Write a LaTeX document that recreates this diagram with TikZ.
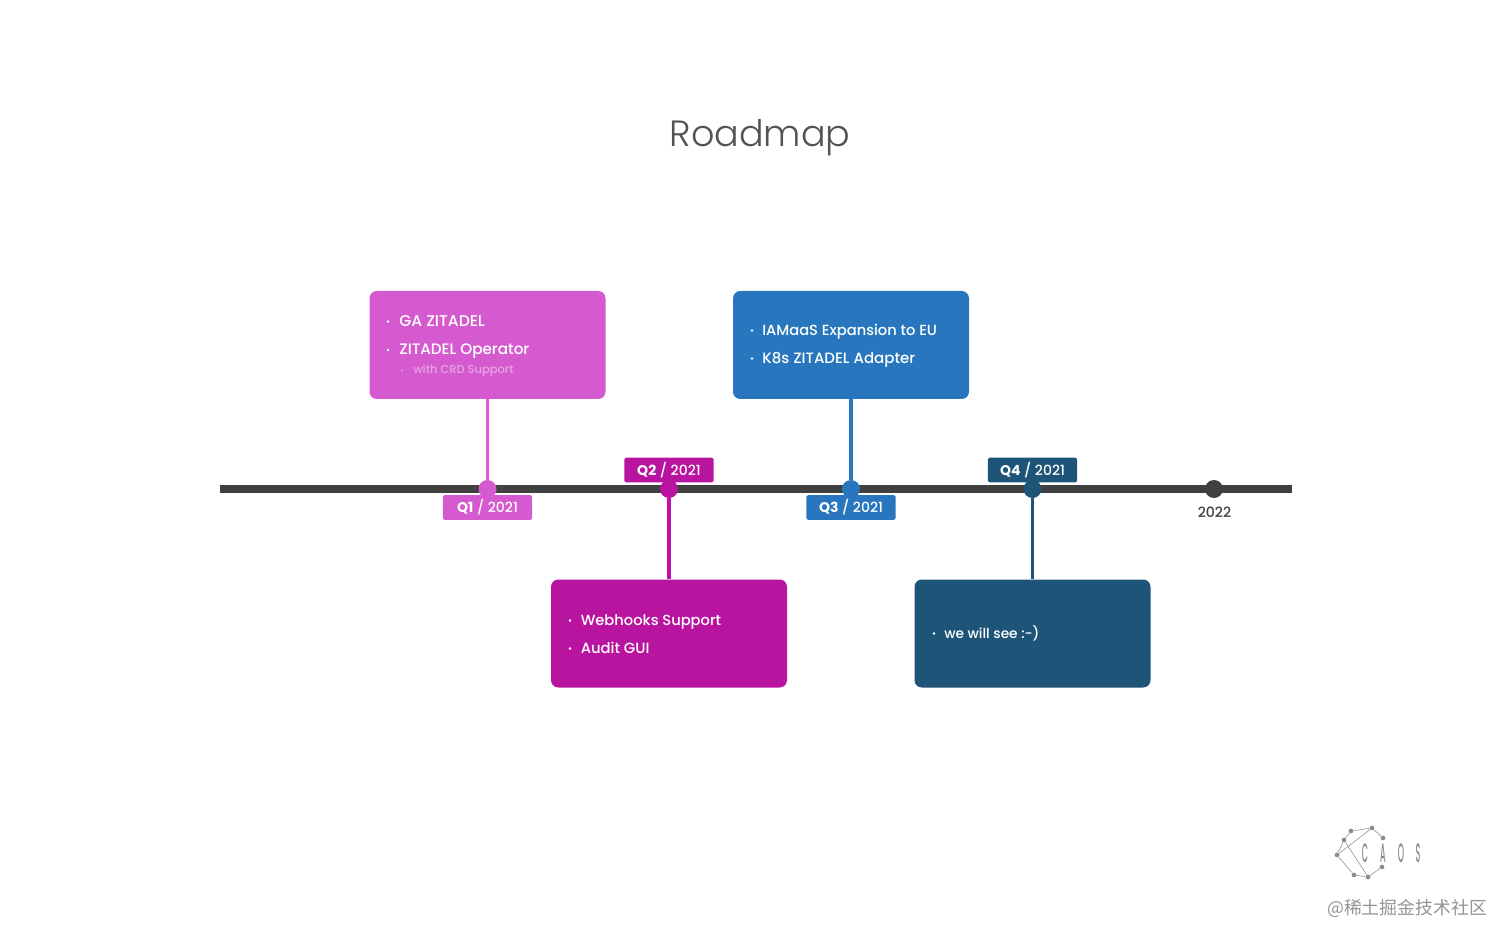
\documentclass[tikz,border=0pt]{standalone}
\usepackage{fontspec}
\setmainfont{Poppins Medium}[BoldFont=Poppins Bold]
\newfontfamily\titlefont{Poppins Light}
\newfontfamily\cjk{Noto Sans CJK SC}
\definecolor{cpink}{HTML}{D55ACF}
\definecolor{cpinkline}{HTML}{E455DE}
\definecolor{cmag}{HTML}{B9149F}
\definecolor{cmagline}{HTML}{C40FAF}
\definecolor{cblue}{HTML}{2877BE}
\definecolor{cnavy}{HTML}{1F5479}
\definecolor{cdark}{HTML}{404040}
\definecolor{clogo}{HTML}{8A8A8A}
\tikzset{
  card/.style={rounded corners=5.5pt,minimum width=177pt,minimum height=81pt,inner sep=0pt,fill=#1},
  tag/.style={rounded corners=1.2pt,minimum width=67pt,minimum height=18.5pt,inner sep=0pt,fill=#1,text=white,font=\fontsize{10.5}{12}\selectfont},
  dot/.style={circle,minimum size=13.5pt,inner sep=0pt,fill=#1},
  stem/.style={line width=2.4pt,draw=#1},
  item/.style={anchor=base west,inner sep=0pt,text=white,font=\fontsize{#1}{12}\selectfont},
  item/.default=11.1,
  bul/.style={circle,fill=white,minimum size=2.2pt,inner sep=0pt},
  subitem/.style={anchor=base west,inner sep=0pt,text=#1,font=\fontsize{8.6}{10}\selectfont},
  lg/.style={draw=clogo,line width=0.4pt},
  lgn/.style={circle,fill=clogo,minimum size=3.5pt,inner sep=0pt},
}
\begin{document}
\begin{tikzpicture}[x=0.75pt,y=-0.75pt]
\useasboundingbox (0,0) rectangle (1512,944);
\node[inner sep=0pt,anchor=base,text=cdark!90] (title) at (760,147) {\titlefont\fontsize{27.4}{32}\selectfont Roadmap};

\coordinate (axisL) at (220,489);
\coordinate (axisR) at (1292,489);
\draw[cdark,line width=6pt] (axisL) -- (axisR);

\node[card=cpink] (c1) at (487.5,345) {};
\node[card=cmag] (c2) at (669,633.5) {};
\node[card=cblue] (c3) at (851,345) {};
\node[card=cnavy] (c4) at (1032.5,633.5) {};

\node[dot=cpink] (d1) at (487.5,489) {};
\node[dot=cmag] (d2) at (669,489) {};
\node[dot=cblue] (d3) at (851,489) {};
\node[dot=cnavy] (d4) at (1032.5,489) {};
\node[dot=cdark] (d5) at (1214,489) {};

\draw[stem=cpinkline] (c1) -- (d1);
\draw[stem=cmagline] (c2) -- (d2);
\draw[stem=cblue] (c3) -- (d3);
\draw[stem=cnavy] (c4) -- (d4);

\node[tag=cpink] (t1) at (487.5,507.5) {\textbf{Q1} / 2021};
\node[tag=cmag] (t2) at (669,470) {\textbf{Q2} / 2021};
\node[tag=cblue] (t3) at (851,507.5) {\textbf{Q3} / 2021};
\node[tag=cnavy] (t4) at (1032.5,470) {\textbf{Q4} / 2021};
\node[inner sep=0pt,text=cdark,font=\fontsize{10.6}{12}\selectfont] (y22) at (1214.5,512) {2022};

\node[bul] (b1a) at (388,321.5) {};
\node[item=11.7] (i1a) at (399,326.5) {GA ZITADEL};
\node[bul] (b1b) at (388,350) {};
\node[item=11.4] (i1b) at (399,355) {ZITADEL Operator};
\node[bul,fill=cpink!60!white,minimum size=1.6pt] (b1c) at (402,370.5) {};
\node[subitem=cpink!55!white] (i1c) at (413,374) {with CRD Support};

\node[bul] (b2a) at (570,620.5) {};
\node[item=11] (i2a) at (580.5,625) {Webhooks Support};
\node[bul] (b2b) at (570,648.5) {};
\node[item] (i2b) at (580.5,653) {Audit GUI};

\node[bul] (b3a) at (752,330.5) {};
\node[item=11] (i3a) at (762,335.5) {IAMaaS Expansion to EU};
\node[bul] (b3b) at (752,358.5) {};
\node[item=11.25] (i3b) at (762,363.5) {K8s ZITADEL Adapter};

\node[bul] (b4a) at (934,633.5) {};
\node[item=10.3] (i4a) at (944,638) {we will see :-)};

% logo
\node[lgn] (l1) at (1337,855) {};
\node[lgn] (l2) at (1344,840) {};
\node[lgn] (l3) at (1351,831) {};
\node[lgn] (l4) at (1372,828) {};
\node[lgn] (l5) at (1383,838) {};
\node[lgn] (l6) at (1354,875) {};
\node[lgn] (l7) at (1368,877) {};
\node[lgn] (l8) at (1382,867) {};
\draw[lg] (l1) -- (l2) -- (l3) -- (l4) -- (l5);
\draw[lg] (l1) -- (l6) -- (l7) -- (l8);
\draw[lg] (l2) -- (l7);
\draw[lg] (l1) -- (l4);
\foreach \ch/\px/\nm in {C/1365/lc,A/1383/la,O/1401/lo,S/1418/ls}{
  \node[inner sep=0pt,text=clogo,font=\fontsize{10}{10}\selectfont,yscale=2,xscale=0.6] (\nm) at (\px,853) {\ch};
}
\node[inner sep=0pt,text=black!42,font=\cjk\fontsize{13.4}{16}\selectfont] (wm) at (1407,908) {@稀土掘金技术社区};
\end{tikzpicture}
\end{document}
